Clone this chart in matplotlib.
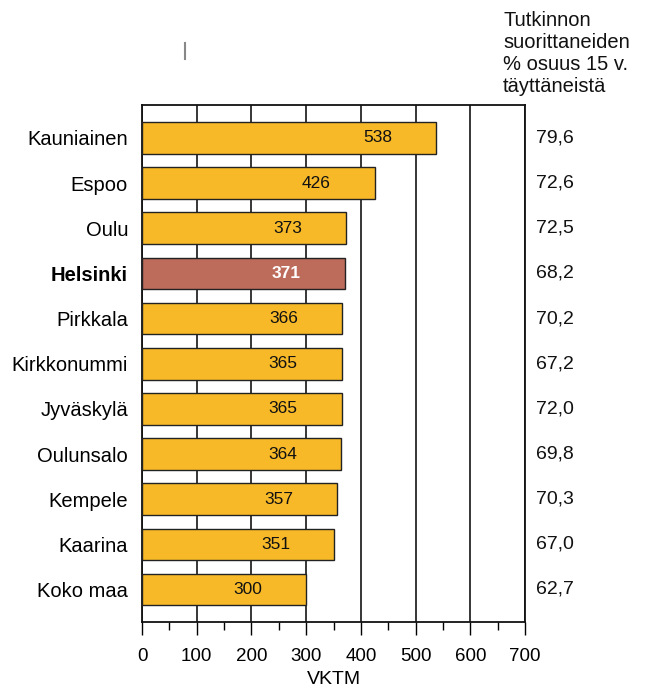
import matplotlib
matplotlib.use("Agg")
import matplotlib.pyplot as plt
from matplotlib.ticker import MultipleLocator

plt.rcParams['font.family'] = ['Liberation Sans', 'DejaVu Sans']

categories = ["Kauniainen", "Espoo", "Oulu", "Helsinki", "Pirkkala", "Kirkkonummi",
              "Jyväskylä", "Oulunsalo", "Kempele", "Kaarina", "Koko maa"]
vktm = [538, 426, 373, 371, 366, 365, 365, 364, 357, 351, 300]
share = ["79,6", "72,6", "72,5", "68,2", "70,2", "67,2", "72,0", "69,8", "70,3", "67,0", "62,7"]
highlight = "Helsinki"
header = "Tutkinnon\nsuorittaneiden\n% osuus 15 v.\ntäyttäneistä"
xticks = [0, 100, 200, 300, 400, 500, 600, 700]

orange = "#F7B928"
red = "#BD6B5B"

fig = plt.figure(figsize=(6.45, 6.9), dpi=100)
ax = fig.add_axes([142/645, 1 - 622/690, (525-142)/645, (622-105)/690])

ypos = list(range(len(categories)))
colors = [red if c == highlight else orange for c in categories]
ax.barh(ypos, vktm, height=0.7, color=colors, edgecolor="#222222", linewidth=1.0, zorder=3)

for y, v, c in zip(ypos, vktm, categories):
    bold = c == highlight
    ax.text(v - 107, y, str(v), ha="center", va="center", fontsize=12.5,
            color="white" if bold else "#111111", fontweight="bold" if bold else "normal", zorder=4)
    ax.text(1.03, y, share[y], transform=ax.get_yaxis_transform(), ha="left", va="center",
            fontsize=14, color="#111111")

ax.set_xlim(0, 700)
ax.set_ylim(len(categories) - 0.28, -0.73)
ax.set_yticks(ypos)
ax.set_yticklabels(categories, fontsize=14.5)
for lbl in ax.get_yticklabels():
    if lbl.get_text() == highlight:
        lbl.set_fontweight("bold")
ax.tick_params(axis="y", length=0, pad=10)

ax.set_xticks(xticks)
ax.xaxis.set_minor_locator(MultipleLocator(50))
ax.tick_params(axis="x", which="major", length=9, width=1, direction="out", labelsize=13.5, pad=10)
ax.tick_params(axis="x", which="minor", length=6, width=1, direction="out")
ax.set_xlabel("VKTM", fontsize=14, labelpad=4)

ax.grid(axis="x", which="major", color="#000000", linewidth=1.1, zorder=0)
for s in ax.spines.values():
    s.set_color("#111111")
    s.set_linewidth(1.3)

fig.text(503/645, 1 - 11/690, header, ha="left", va="top", fontsize=14.5, linespacing=1.2, color="#111111")

# small stray mark near top
fig.add_artist(plt.Line2D([185/645, 185/645], [1 - 43/690, 1 - 59/690], color="#888888", linewidth=1.5))

fig.savefig("out.png", dpi=100)
